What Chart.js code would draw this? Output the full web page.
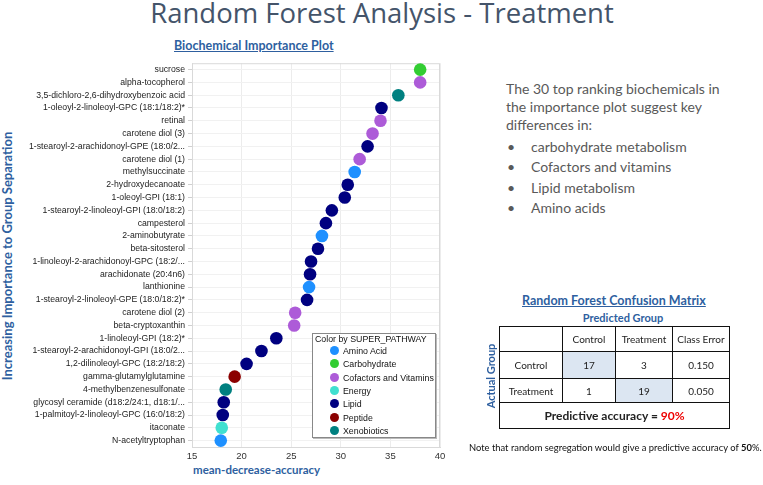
<!DOCTYPE html>
<html>
<head>
<meta charset="utf-8">
<script src="https://cdn.jsdelivr.net/npm/chart.js@4/dist/chart.umd.min.js"></script>
<style>
  body { margin: 0; background: #fff; }
  #page { position: relative; width: 763px; height: 485px; overflow: hidden; font-family: Lato, "Open Sans", sans-serif; }
  .abs { position: absolute; white-space: nowrap; }
  #mainTitle { left: 0; width: 764px; top: -6px; text-align: center; font-size: 27.5px; color: #44546a; font-family: "Open Sans", sans-serif; }
  #plotTitle { left: 174px; top: 38px; font-size: 12.5px; font-weight: bold; color: #2e5f9f; text-decoration: underline; }
  #yTitle { left: 7px; top: 256px; font-size: 13px; font-weight: bold; color: #2e5f9f; transform: translate(-50%, -50%) rotate(-90deg); }
  #xTitle { left: 193px; top: 463px; font-size: 11.5px; font-weight: bold; color: #2e5f9f; }
  #chartBox { position: absolute; left: 0; top: 55px; width: 455px; height: 430px; }
  #legend { position: absolute; left: 312px; top: 333px; width: 122px; height: 103px; border: 1px solid #888; box-shadow: 1px 1px 0 #bbb; background: #fff; font-family: "Liberation Sans", Arial, sans-serif; font-size: 8.8px; color: #111; }
  #legend .ttl { position: absolute; left: 2px; top: 0px; }
  #legend .item { position: absolute; left: 17px; height: 12px; line-height: 12px; }
  #legend .dot { display: inline-block; width: 9px; height: 9px; border-radius: 50%; vertical-align: -1px; margin-right: 4px; }
  #notes { left: 506px; top: 80px; font-size: 14px; color: #595959; line-height: 18px; white-space: normal; width: 222px; }
  .bullet { position: absolute; font-size: 14px; color: #595959; }
  #cmTitle { left: 522px; top: 293px; font-size: 12.5px; font-weight: bold; color: #2e5f9f; text-decoration: underline; }
  #predTitle { left: 570px; top: 311px; width: 106px; text-align: center; font-size: 11px; font-weight: bold; color: #2e5f9f; }
  #actTitle { left: 490px; top: 376px; font-size: 11px; font-weight: bold; color: #2e5f9f; transform: translate(-50%, -50%) rotate(-90deg); }
  #cm { position: absolute; left: 499px; top: 326px; width: 230px; table-layout: fixed; border-collapse: collapse; font-size: 10px; color: #222; }
  #cm td { border: 1.5px solid #111; text-align: center; padding: 0; box-sizing: border-box; }
  #cm .shade { background: #dce6f2; }
  #note { left: 469px; top: 442px; font-size: 9.4px; color: #111; }
</style>
</head>
<body>
<div id="page">
  <div id="mainTitle" class="abs">Random Forest Analysis - Treatment</div>
  <div id="plotTitle" class="abs">Biochemical Importance Plot</div>
  <div id="yTitle" class="abs">Increasing Importance to Group Separation</div>
  <div id="xTitle" class="abs">mean-decrease-accuracy</div>
  <div id="chartBox"><canvas id="rfChart"></canvas></div>
  <div id="legend"></div>

  <div id="notes" class="abs">The 30 top ranking biochemicals in the importance plot suggest key differences in:</div>
  <div id="bullets"></div>

  <div id="cmTitle" class="abs">Random Forest Confusion Matrix</div>
  <div id="predTitle" class="abs">Predicted Group</div>
  <div id="actTitle" class="abs">Actual Group</div>
  <table id="cm"></table>
  <div id="note" class="abs">Note that random segregation would give a predictive accuracy of <b>50</b>%.</div>
</div>

<script>
// top 30 biochemicals, most important first
const compounds = [
  'sucrose', 'alpha-tocopherol', '3,5-dichloro-2,6-dihydroxybenzoic acid',
  '1-oleoyl-2-linoleoyl-GPC (18:1/18:2)*', 'retinal', 'carotene diol (3)',
  '1-stearoyl-2-arachidonoyl-GPE (18:0/2...', 'carotene diol (1)', 'methylsuccinate',
  '2-hydroxydecanoate', '1-oleoyl-GPI (18:1)', '1-stearoyl-2-linoleoyl-GPI (18:0/18:2)',
  'campesterol', '2-aminobutyrate', 'beta-sitosterol',
  '1-linoleoyl-2-arachidonoyl-GPC (18:2/...', 'arachidonate (20:4n6)', 'lanthionine',
  '1-stearoyl-2-linoleoyl-GPE (18:0/18:2)*', 'carotene diol (2)', 'beta-cryptoxanthin',
  '1-linoleoyl-GPI (18:2)*', '1-stearoyl-2-arachidonoyl-GPI (18:0/2...', '1,2-dilinoleoyl-GPC (18:2/18:2)',
  'gamma-glutamylglutamine', '4-methylbenzenesulfonate', 'glycosyl ceramide (d18:2/24:1, d18:1/...',
  '1-palmitoyl-2-linoleoyl-GPC (16:0/18:2)', 'itaconate', 'N-acetyltryptophan'
];
const importance = [
  38.0, 38.0, 35.8, 34.1, 34.0, 33.2, 32.7, 31.9, 31.4, 30.7,
  30.4, 29.1, 28.5, 28.1, 27.7, 27.0, 26.9, 26.8, 26.6, 25.4,
  25.3, 23.5, 22.0, 20.5, 19.3, 18.4, 18.2, 18.1, 18.0, 17.9
];
const superPathway = [
  'Carbohydrate', 'Cofactors and Vitamins', 'Xenobiotics', 'Lipid', 'Cofactors and Vitamins', 'Cofactors and Vitamins',
  'Lipid', 'Cofactors and Vitamins', 'Amino Acid', 'Lipid', 'Lipid', 'Lipid',
  'Lipid', 'Amino Acid', 'Lipid', 'Lipid', 'Lipid', 'Amino Acid',
  'Lipid', 'Cofactors and Vitamins', 'Cofactors and Vitamins', 'Lipid', 'Lipid', 'Lipid',
  'Peptide', 'Xenobiotics', 'Lipid', 'Lipid', 'Energy', 'Amino Acid'
];
const pathways = ['Amino Acid', 'Carbohydrate', 'Cofactors and Vitamins', 'Energy', 'Lipid', 'Peptide', 'Xenobiotics'];
const pathwayColors = ['#1e90ff', '#32cd32', '#ad5bd8', '#40e0d0', '#000080', '#8b0000', '#008080'];
const xTicks = [15, 20, 25, 30, 35, 40];

const keyPoints = ['carbohydrate metabolism', 'Cofactors and vitamins', 'Lipid metabolism', 'Amino acids'];

const cmCols = ['Control', 'Treatment', 'Class Error'];
const cmRows = ['Control', 'Treatment'];
const cmCounts = [[17, 3], [1, 19]];
const cmError = ['0.150', '0.050'];
const accuracy = 90;

// one dataset per super pathway so the colours group
const datasets = pathways.map((p, k) => ({
  label: p,
  data: compounds.map((c, i) => ({ x: importance[i], y: c })).filter((d, i) => superPathway[i] === p),
  backgroundColor: pathwayColors[k],
  borderColor: pathwayColors[k],
  pointRadius: 6.3,
  pointHoverRadius: 6.3,
  borderWidth: 0
}));

const frame = {
  id: 'frame',
  beforeDatasetsDraw(chart) {
    const a = chart.chartArea, ctx = chart.ctx;
    ctx.save();
    ctx.strokeStyle = '#d9d9d9';
    ctx.lineWidth = 1;
    ctx.strokeRect(a.left + 0.5, a.top + 0.5, a.right - a.left - 1, a.bottom - a.top);
    ctx.restore();
  }
};

new Chart(document.getElementById('rfChart'), {
  type: 'scatter',
  data: { datasets },
  options: {
    responsive: true,
    maintainAspectRatio: false,
    animation: false,
    layout: { padding: { top: 5, right: 15, left: 0, bottom: 0 } },
    plugins: { legend: { display: false }, tooltip: { enabled: false } },
    scales: {
      x: {
        type: 'linear',
        min: xTicks[0],
        max: xTicks[xTicks.length - 1],
        afterBuildTicks: s => { s.ticks = xTicks.map(v => ({ value: v })); },
        afterFit: s => { s.height = 38; },
        grid: { color: '#ececec', drawTicks: false },
        border: { color: '#d9d9d9' },
        ticks: { padding: 4, color: '#333', font: { family: 'Liberation Sans', size: 9.5 } }
      },
      y: {
        type: 'category',
        labels: compounds,
        offset: true,
        afterFit: s => { s.width = 192; },
        grid: { color: '#f1f1f1', tickLength: 4, tickColor: '#d0d0d0' },
        border: { color: '#d9d9d9' },
        ticks: { autoSkip: false, padding: 3, color: '#222', font: { family: 'Liberation Sans', size: 8.7 } }
      }
    }
  },
  plugins: [frame]
});

// legend box
const legend = document.getElementById('legend');
legend.innerHTML = '<div class="ttl">Color by SUPER_PATHWAY</div>' +
  pathways.map((p, k) => '<div class="item" style="top:' + (11 + k * 13.3) + 'px"><span class="dot" style="background:' +
    pathwayColors[k] + '"></span>' + p + '</div>').join('');

// bullet list
document.getElementById('bullets').innerHTML = keyPoints.map((t, i) =>
  '<div class="bullet" style="left:507px;top:' + (138 + i * 20.3) + 'px">&bull;</div>' +
  '<div class="bullet" style="left:531px;top:' + (138 + i * 20.3) + 'px">' + t + '</div>').join('');

// confusion matrix table
const colW = [63, 53, 57, 57];
const rowH = [25, 27, 24, 26];
let html = '<colgroup>' + colW.map(w => '<col style="width:' + w + 'px">').join('') + '</colgroup>';
html += '<tr><td style="height:' + rowH[0] + 'px"></td>' +
  cmCols.map(c => '<td>' + c + '</td>').join('') + '</tr>';
cmRows.forEach((r, i) => {
  html += '<tr><td style="height:' + rowH[i + 1] + 'px">' + r + '</td>' +
    cmCounts[i].map((v, j) => '<td' + (i === j ? ' class="shade"' : '') + '>' + v + '</td>').join('') +
    '<td>' + cmError[i] + '</td></tr>';
});
html += '<tr><td colspan="4" style="height:' + rowH[3] + 'px;font-weight:bold;font-size:12px">Predictive accuracy = <span style="color:#e00">' +
  accuracy + '%</span></td></tr>';
document.getElementById('cm').innerHTML = html;
</script>
</body>
</html>
